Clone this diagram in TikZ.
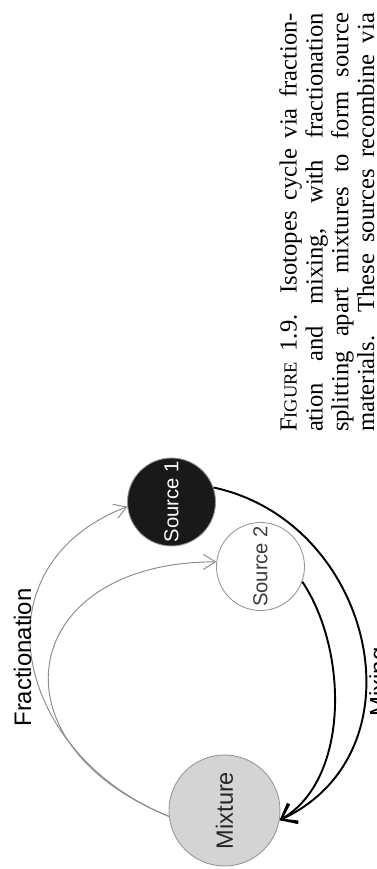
\documentclass[tikz,border=0pt]{standalone}
\usepackage{fontspec}
\setmainfont{Liberation Serif}
\newfontfamily\labelfont{Liberation Sans}
\usepackage{graphicx}
\usepackage{tikz}
\usetikzlibrary{arrows.meta,calc,positioning}
\definecolor{fracgray}{RGB}{140,140,140}
\definecolor{poolgray}{RGB}{212,212,212}
\definecolor{rimgray}{RGB}{150,150,150}
\definecolor{inkgray}{RGB}{60,60,60}
\newcommand\capline[1]{\makebox[8.38cm][s]{#1}}

\begin{document}
\begin{tikzpicture}[
  pool/.style={draw=rimgray, circle, line width=0.5pt, inner sep=0pt, font=\labelfont\fontsize{11.5}{12}\selectfont},
  lbl/.style={font=\labelfont\fontsize{13.6}{14}\selectfont, rotate=90},
  frac/.style={draw=fracgray, line width=0.55pt, -{Straight Barb[length=2.4mm,width=3mm]}},
  mixing/.style={draw=black, line width=1.1pt, -{Straight Barb[length=2.8mm,width=4.2mm]}}]

\useasboundingbox (0,0) rectangle (7.54,17.38);

% reservoirs
\node[pool, fill=black!90, text=white, minimum size=1.76cm] (src1) at (3.43,7.34) {\rotatebox{90}{Source 1}};
\node[pool, fill=white, text=inkgray, minimum size=1.76cm] (src2) at (5.21,6.05) {\rotatebox{90}{Source 2}};
\node[pool, fill=poolgray, text=black!85, minimum size=2.22cm, font=\labelfont\fontsize{13.4}{14}\selectfont] (mix) at (4.49,1.17) {\rotatebox{90}{Mixture}};

% fractionation (thin, grey)
\draw[frac] (mix.186) to[out=158, in=201, looseness=1.36] (src1.186);
\draw[frac] (mix.186) to[out=158, in=180, looseness=1.95] (src2.174);
\node[lbl] (fraclbl) at (0.45,4.23) {Fractionation};

% mixing (thick, black)
\draw[mixing] (src1.19) to[out=-12, in=25, looseness=1.23] (mix.350);
\draw[mixing] (src2.340) to[out=-56, in=30, looseness=0.87] (mix.350);
\node[lbl, anchor=north, inner sep=0pt] (mixlbl) at (7.38,3.74) {Mixing};

% caption
\node[rotate=90, align=left, inner sep=0pt,
  font=\fontsize{14}{14.7}\selectfont] (capt) at (6.54,12.93)
  {\capline{F{\fontsize{10.5}{14.7}\selectfont IGURE} 1.9. Isotopes cycle via fraction-}\\
   \capline{ation and mixing, with fractionation}\\
   \capline{splitting apart mixtures to form source}\\
   \capline{materials. These sources recombine via}};

\end{tikzpicture}
\end{document}
